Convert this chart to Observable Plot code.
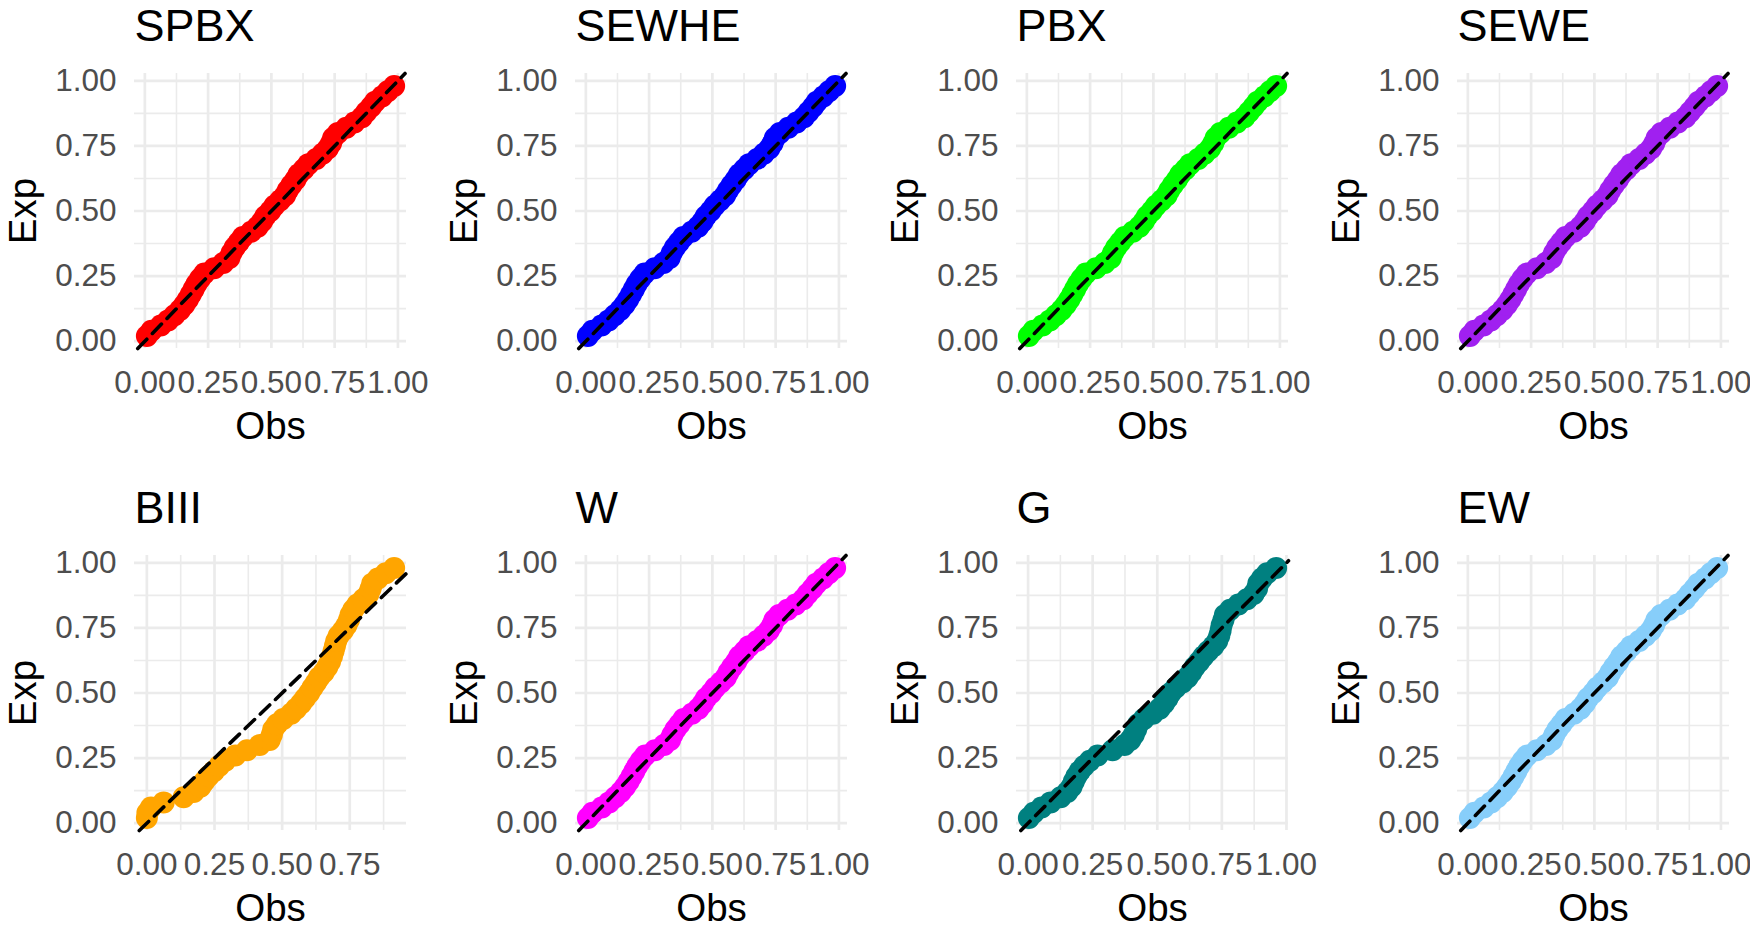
<!DOCTYPE html>
<html>
<head>
<meta charset="utf-8">
<script src="https://cdn.jsdelivr.net/npm/d3@7"></script>
<script src="https://cdn.jsdelivr.net/npm/@observablehq/plot@0.6"></script>
<style>
html, body { margin: 0; padding: 0; background: #fff; width: 1750px; height: 944px; overflow: hidden; }
#grid { position: relative; width: 1750px; height: 944px; }
.panel { position: absolute; }
</style>
</head>
<body>
<div id="grid"></div>
<script>
// Expected probabilities (y, "Exp"), shared by all panels
const expProb = [0.02,0.04,0.06,0.08,0.10,0.12,0.14,0.16,0.18,0.20,0.22,0.24,0.26,0.28,0.30,0.32,0.34,0.36,0.38,0.40,0.42,0.44,0.46,0.48,0.50,
                 0.52,0.54,0.56,0.58,0.60,0.62,0.64,0.66,0.68,0.70,0.72,0.74,0.76,0.78,0.80,0.82,0.84,0.86,0.88,0.90,0.92,0.94,0.96,0.98];

const obsSPBX  = [0.008,0.026,0.063,0.092,0.117,0.139,0.156,0.170,0.182,0.193,0.204,0.218,0.235,0.274,0.310,0.334,0.343,0.355,0.371,0.387,0.420,0.446,0.463,0.476,0.496,
                  0.512,0.534,0.554,0.565,0.579,0.595,0.607,0.628,0.646,0.677,0.702,0.723,0.736,0.744,0.763,0.796,0.828,0.858,0.875,0.894,0.910,0.937,0.960,0.985];
const obsSEWHE = [0.008,0.026,0.062,0.090,0.114,0.136,0.153,0.167,0.179,0.190,0.201,0.215,0.232,0.272,0.307,0.331,0.340,0.352,0.368,0.385,0.418,0.444,0.461,0.474,0.493,
                  0.509,0.530,0.550,0.562,0.576,0.592,0.605,0.626,0.645,0.677,0.703,0.725,0.738,0.747,0.767,0.800,0.833,0.862,0.880,0.898,0.913,0.938,0.961,0.985];
const obsPBX   = [0.008,0.026,0.062,0.091,0.115,0.137,0.154,0.168,0.180,0.191,0.202,0.216,0.233,0.273,0.308,0.332,0.341,0.353,0.369,0.386,0.419,0.445,0.462,0.475,0.494,
                  0.510,0.532,0.552,0.563,0.577,0.593,0.606,0.627,0.645,0.677,0.702,0.724,0.737,0.746,0.765,0.798,0.830,0.860,0.878,0.896,0.912,0.938,0.961,0.985];
const obsSEWE  = [0.008,0.026,0.062,0.091,0.115,0.137,0.154,0.168,0.180,0.191,0.202,0.216,0.233,0.273,0.308,0.332,0.341,0.353,0.369,0.386,0.419,0.445,0.462,0.475,0.494,
                  0.510,0.532,0.552,0.563,0.577,0.593,0.606,0.627,0.645,0.677,0.702,0.724,0.737,0.746,0.765,0.798,0.830,0.860,0.878,0.896,0.912,0.938,0.961,0.985];
const obsBIII  = [0.000,0.002,0.015,0.062,0.136,0.173,0.198,0.212,0.228,0.248,0.267,0.290,0.327,0.370,0.417,0.454,0.462,0.467,0.481,0.504,0.533,0.552,0.570,0.585,0.600,
                  0.612,0.625,0.637,0.654,0.667,0.677,0.684,0.690,0.695,0.700,0.709,0.725,0.738,0.747,0.753,0.763,0.778,0.800,0.819,0.827,0.833,0.854,0.883,0.914];
const obsW     = [0.008,0.026,0.063,0.092,0.116,0.138,0.155,0.169,0.181,0.192,0.203,0.217,0.234,0.273,0.309,0.333,0.342,0.354,0.370,0.386,0.419,0.445,0.462,0.475,0.495,
                  0.511,0.533,0.553,0.564,0.578,0.594,0.606,0.627,0.645,0.677,0.702,0.723,0.736,0.745,0.764,0.797,0.829,0.859,0.876,0.895,0.911,0.937,0.960,0.985];
const obsG     = [0.003,0.022,0.052,0.087,0.126,0.152,0.168,0.177,0.187,0.200,0.217,0.239,0.269,0.327,0.373,0.396,0.409,0.418,0.426,0.448,0.483,0.509,0.526,0.540,0.552,
                  0.571,0.597,0.617,0.632,0.645,0.662,0.678,0.697,0.717,0.732,0.740,0.745,0.749,0.756,0.762,0.782,0.814,0.847,0.873,0.886,0.891,0.905,0.925,0.960];
const obsEW    = [0.008,0.026,0.063,0.092,0.116,0.138,0.155,0.169,0.181,0.192,0.203,0.217,0.234,0.273,0.309,0.333,0.342,0.354,0.370,0.386,0.419,0.445,0.462,0.475,0.495,
                  0.511,0.533,0.553,0.564,0.578,0.594,0.606,0.627,0.645,0.677,0.702,0.723,0.736,0.745,0.764,0.797,0.829,0.859,0.876,0.895,0.911,0.937,0.960,0.985];

const panelNames  = ["SPBX","SEWHE","PBX","SEWE","BIII","W","G","EW"];
const panelObs    = [obsSPBX, obsSEWHE, obsPBX, obsSEWE, obsBIII, obsW, obsG, obsEW];
const panelColors = ["#ff0000","#0000ff","#00ff00","#a020f0","#ffa500","#ff00ff","#008080","#87cefa"];

const majorTicks = [0, 0.25, 0.5, 0.75, 1];
const minorTicks = [0.125, 0.375, 0.625, 0.875];

function expand(vals) {
  const [a, b] = d3.extent(vals);
  const r = b - a;
  return [a - 0.05 * r, b + 0.05 * r];
}

const font = "'Liberation Sans', Arial, Helvetica, sans-serif";
const grid = document.getElementById("grid");

panelNames.forEach((name, i) => {
  const col = i % 4, row = Math.floor(i / 4);
  const obs = panelObs[i];
  const data = obs.map((o, k) => ({Obs: o, Exp: expProb[k]}));
  const xd = expand(obs), yd = expand(expProb);
  const inX = t => t >= xd[0] && t <= xd[1];
  const inY = t => t >= yd[0] && t <= yd[1];
  const lo = Math.max(xd[0], yd[0]), hi = Math.min(xd[1], yd[1]);

  const chart = Plot.plot({
    width: 441,
    height: 462,
    marginLeft: 134,
    marginRight: 35,
    marginTop: 73,
    marginBottom: 114,
    x: {domain: xd, label: null},
    y: {domain: yd, label: null},
    style: {fontFamily: font, background: "white", overflow: "visible"},
    marks: [
      Plot.gridX({ticks: minorTicks.filter(inX), stroke: "#ebebeb", strokeOpacity: 1, strokeWidth: 1.6}),
      Plot.gridY({ticks: minorTicks.filter(inY), stroke: "#ebebeb", strokeOpacity: 1, strokeWidth: 1.6}),
      Plot.gridX({ticks: majorTicks.filter(inX), stroke: "#ebebeb", strokeOpacity: 1, strokeWidth: 2.7}),
      Plot.gridY({ticks: majorTicks.filter(inY), stroke: "#ebebeb", strokeOpacity: 1, strokeWidth: 2.7}),
      Plot.dot(data, {x: "Obs", y: "Exp", r: 11, fill: panelColors[i], stroke: null}),
      Plot.line([lo, hi], {x: d => d, y: d => d, stroke: "black", strokeWidth: 3.6, strokeDasharray: "13,8"}),
      Plot.axisX({ticks: majorTicks.filter(inX), tickSize: 0, tickPadding: 22, fontSize: 31.5, fill: "#4d4d4d", tickFormat: d3.format(".2f"), label: null}),
      Plot.axisY({ticks: majorTicks.filter(inY), tickSize: 0, tickPadding: 18, fontSize: 31.5, fill: "#4d4d4d", tickFormat: d3.format(".2f"), label: null}),
      Plot.text([name], {frameAnchor: "top-left", dy: -33, textAnchor: "start", lineAnchor: "bottom", fontSize: 45, fill: "black"}),
      Plot.text(["Obs"], {frameAnchor: "bottom", dy: 90, textAnchor: "middle", lineAnchor: "bottom", fontSize: 38.5, fill: "black"}),
      Plot.text(["Exp"], {frameAnchor: "left", dx: -99, rotate: -90, textAnchor: "middle", lineAnchor: "bottom", fontSize: 38.5, fill: "black"})
    ]
  });
  chart.classList.add("panel");
  chart.style.left = (col * 441) + "px";
  chart.style.top = (row * 482) + "px";
  grid.appendChild(chart);
});
</script>
</body>
</html>
